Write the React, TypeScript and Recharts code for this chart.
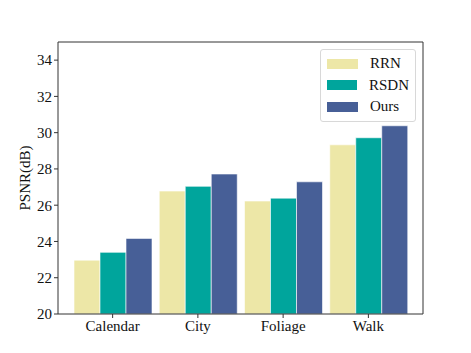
import * as React from 'react';
import { BarChart, Bar, XAxis, YAxis, Legend, Label } from 'recharts';

// PSNR per sequence
const categories = ['Calendar', 'City', 'Foliage', 'Walk'];
const seriesNames = ['RRN', 'RSDN', 'Ours'];
const rrn = [22.97, 26.78, 26.23, 29.33];
const rsdn = [23.4, 27.04, 26.39, 29.72];
const ours = [24.17, 27.72, 27.29, 30.38];
const yTicks = [20, 22, 24, 26, 28, 30, 32, 34];

const data = categories.map((name, i) => ({ name, RRN: rrn[i], RSDN: rsdn[i], Ours: ours[i] }));

const font = '"Liberation Serif", "Times New Roman", serif';
const axisColor = '#333';

function renderLegend(props: any) {
  const payload = [...(props.payload || [])].sort(
    (a: any, b: any) => seriesNames.indexOf(a.value) - seriesNames.indexOf(b.value)
  );
  return (
    <div
      style={{
        border: '1px solid #d8d8d8',
        borderRadius: 3,
        background: '#fff',
        padding: '3px 6px 3px 6px',
        fontFamily: font,
        fontSize: 15,
        color: '#111',
      }}
    >
      {payload.map((entry: any) => (
        <div key={entry.value} style={{ display: 'flex', alignItems: 'center', height: 21.5 }}>
          <span style={{ width: 31, height: 10, background: entry.color, display: 'inline-block', marginRight: 12 }} />
          <span>{entry.value}</span>
        </div>
      ))}
    </div>
  );
}

export default function App() {
  return (
    <div style={{ position: 'absolute', left: 0, top: 0 }}>
      <BarChart
        width={471}
        height={353}
        data={data}
        margin={{ top: 41, right: 47, left: 18, bottom: 9 }}
        barCategoryGap={4}
        barGap={0}
      >
        <XAxis
          dataKey="name"
          padding={{ left: 12, right: 12 }}
          height={30}
          tickSize={4}
          stroke={axisColor}
          tick={{ fontFamily: font, fontSize: 15, fill: '#111' }}
          tickLine={{ stroke: axisColor }}
          axisLine={{ stroke: axisColor }}
        />
        <XAxis xAxisId="top" dataKey="name" orientation="top" height={1} tick={false} tickLine={false} axisLine={{ stroke: axisColor }} />
        <YAxis
          domain={[20, 35]}
          ticks={yTicks}
          width={40}
          tickSize={4}
          allowDataOverflow
          tick={{ fontFamily: font, fontSize: 15, fill: '#111' }}
          tickLine={{ stroke: axisColor }}
          axisLine={{ stroke: axisColor }}
        >
          <Label value="PSNR(dB)" angle={-90} position="center" dx={-13} style={{ fontFamily: font, fontSize: 15, fill: '#111' }} />
        </YAxis>
        <YAxis yAxisId="r" orientation="right" type="number" domain={[0, 1]} width={1} tick={false} tickLine={false} axisLine={{ stroke: axisColor }} />
        <Legend
          layout="horizontal"
          verticalAlign="middle"
          align="center"
          content={renderLegend}
          wrapperStyle={{ left: 320, top: 49, width: 96, height: 'auto' }}
        />
        <Bar dataKey="RRN" fill="#ede7a7" stroke="#ffffff" strokeWidth={0.6} isAnimationActive={false} />
        <Bar dataKey="RSDN" fill="#00a59c" stroke="#ffffff" strokeWidth={0.6} isAnimationActive={false} />
        <Bar dataKey="Ours" fill="#475f97" stroke="#ffffff" strokeWidth={0.6} isAnimationActive={false} />
      </BarChart>
    </div>
  );
}
